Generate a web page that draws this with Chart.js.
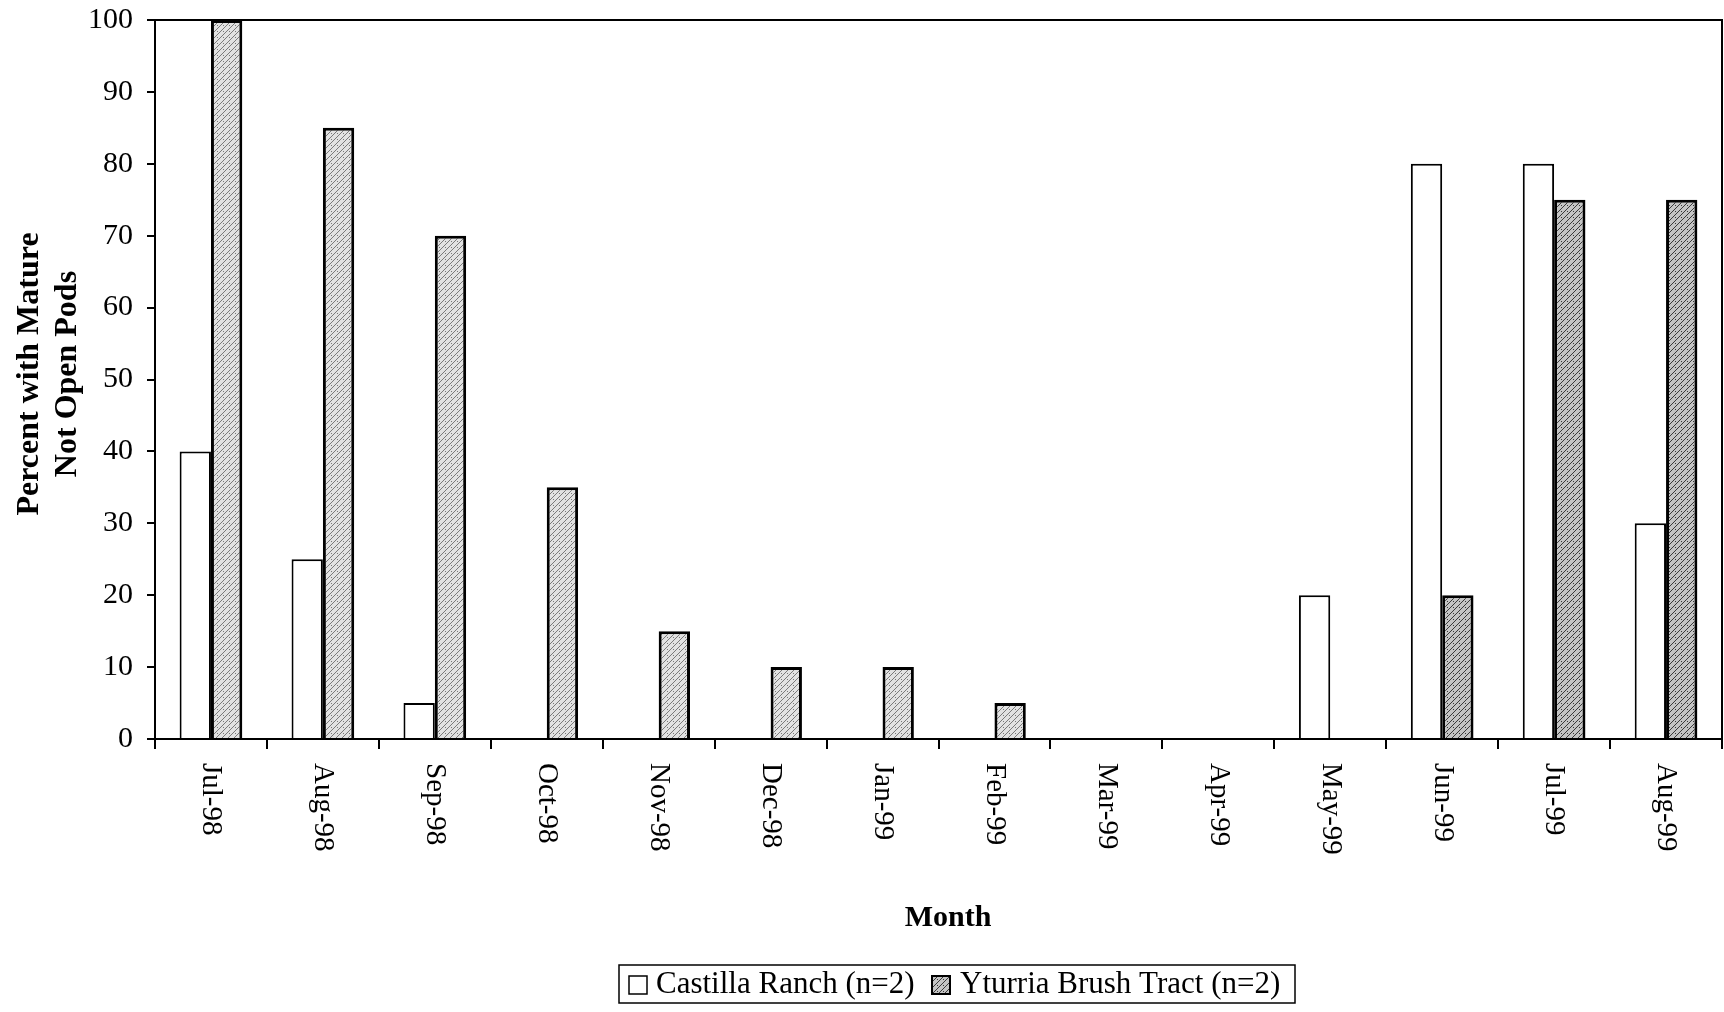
<!DOCTYPE html>
<html><head><meta charset="utf-8">
<script src="https://cdn.jsdelivr.net/npm/chart.js@4/dist/chart.umd.min.js"></script>
<style>html,body{margin:0;padding:0;background:#fff;}#wrap{width:1724px;height:1012px;position:relative;}</style>
</head><body><div id="wrap"><canvas id="c" width="1724" height="1012"></canvas></div>
<script>
const months = ['Jul-98','Aug-98','Sep-98','Oct-98','Nov-98','Dec-98','Jan-99','Feb-99','Mar-99','Apr-99','May-99','Jun-99','Jul-99','Aug-99'];
const castilla = [40,25,5,0,0,0,0,0,0,0,20,80,80,30];
const yturria  = [100,85,70,35,15,10,10,5,0,0,0,20,75,75];
const yTicks = [0,10,20,30,40,50,60,70,80,90,100];
const seriesNames = ['Castilla Ranch (n=2)','Yturria Brush Tract (n=2)'];
const yTitleLines = ['Percent with Mature','Not Open Pods'];
const xTitle = 'Month';

function makePattern(bg, fg){
  const p = document.createElement('canvas'); p.width = 6; p.height = 6;
  const g = p.getContext('2d');
  g.fillStyle = bg; g.fillRect(0,0,6,6);
  g.strokeStyle = fg; g.lineWidth = 1;
  g.beginPath(); g.moveTo(0,6); g.lineTo(6,0); g.moveTo(-1,1); g.lineTo(1,-1); g.moveTo(5,7); g.lineTo(7,5); g.stroke();
  g.fillStyle = fg; g.fillRect(1,1,1,1);
  return document.getElementById('c').getContext('2d').createPattern(p,'repeat');
}
const patLight = makePattern('#e2e2e2','#7a7a7a');
const patDark = makePattern('#c4c4c4','#3a3a3a');
const yturriaFill = yturria.map((v,i)=> i>=11 ? patDark : patLight);

const SERIF = '"Liberation Serif","DejaVu Serif",serif';

const drawPlugin = {
  id:'custom',
  afterDatasetsDraw(chart){
    const {ctx, chartArea:a} = chart;
    ctx.save();
    ctx.strokeStyle = '#000'; ctx.lineWidth = 2;
    ctx.beginPath();
    ctx.moveTo(a.left, a.top); ctx.lineTo(a.right, a.top); ctx.lineTo(a.right, a.bottom);
    ctx.stroke();
    ctx.restore();
  },
  afterDraw(chart){
    const ctx = chart.ctx; const xs = chart.scales.x;
    ctx.save();
    ctx.fillStyle = '#000';
    ctx.font = '29px ' + SERIF;
    ctx.textAlign = 'left'; ctx.textBaseline = 'middle';
    months.forEach((m,i)=>{
      const x = xs.getPixelForValue(i);
      ctx.save(); ctx.translate(x, 763); ctx.rotate(Math.PI/2); ctx.fillText(m,0,0); ctx.restore();
    });
    ctx.font = 'bold 30px ' + SERIF;
    ctx.textAlign = 'center'; ctx.textBaseline = 'middle';
    ctx.fillText(xTitle, 948, 918);
    ctx.save(); ctx.translate(0,374); ctx.rotate(-Math.PI/2);
    ctx.font = 'bold 32px ' + SERIF;
    ctx.fillText(yTitleLines[0], 0, 30);
    ctx.fillText(yTitleLines[1], 0, 68);
    ctx.restore();
    const L=619, T=965, R=1295, B=1003;
    ctx.strokeStyle = '#000'; ctx.lineWidth = 1.5;
    ctx.strokeRect(L, T, R-L, B-T);
    ctx.font = '31px ' + SERIF;
    ctx.textAlign = 'left'; ctx.textBaseline = 'middle';
    const cy = (T+B)/2 + 1;
    ctx.fillStyle = '#fff'; ctx.fillRect(629, cy-9, 18, 18);
    ctx.strokeRect(629, cy-9, 18, 18);
    ctx.fillStyle = '#000'; ctx.fillText(seriesNames[0], 656, cy);
    ctx.fillStyle = patDark; ctx.fillRect(932, cy-9, 18, 18);
    ctx.lineWidth = 2; ctx.strokeRect(932, cy-9, 18, 18);
    ctx.fillStyle = '#000'; ctx.fillText(seriesNames[1], 960, cy);
    ctx.restore();
  }
};

new Chart(document.getElementById('c'), {
  type:'bar',
  data:{
    labels: months,
    datasets:[
      {label:seriesNames[0], data:castilla, backgroundColor:'#fff', borderColor:'#000', borderWidth:2, categoryPercentage:0.56, barPercentage:1},
      {label:seriesNames[1], data:yturria, backgroundColor:yturriaFill, borderColor:'#000', borderWidth:3, categoryPercentage:0.56, barPercentage:1}
    ]
  },
  options:{
    responsive:false, animation:false, devicePixelRatio:1,
    layout:{padding:{top:20,right:2,left:0,bottom:0}},
    plugins:{legend:{display:false}, tooltip:{enabled:false}},
    scales:{
      x:{
        grid:{display:true, drawOnChartArea:false, drawTicks:true, tickLength:10, color:'#000', lineWidth:2, offset:true},
        border:{display:true, color:'#000', width:2},
        ticks:{display:false},
        afterFit(s){ s.height = 1012-739; s.paddingLeft = 0; s.paddingRight = 0; }
      },
      y:{
        min:0, max:100,
        afterBuildTicks(s){ s.ticks = yTicks.map(v=>({value:v})); },
        ticks:{font:{family:SERIF, size:30}, color:'#000', padding:14},
        grid:{display:true, drawOnChartArea:false, drawTicks:true, tickLength:8, color:'#000', lineWidth:2},
        border:{display:true, color:'#000', width:2},
        afterFit(s){ s.width = 155; s.paddingTop = 0; s.paddingBottom = 0; }
      }
    }
  },
  plugins:[drawPlugin]
});
</script></body></html>
